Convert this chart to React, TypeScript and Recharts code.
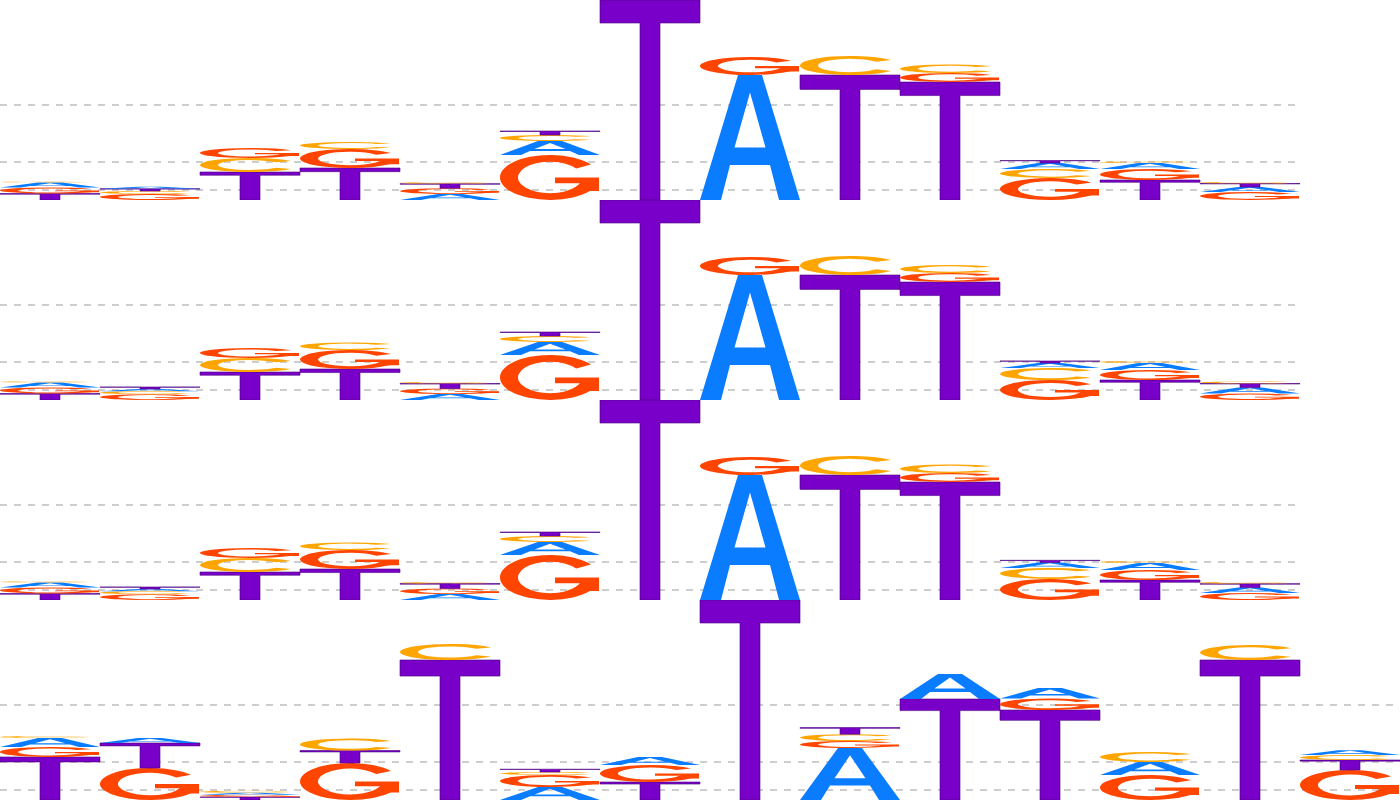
import { Bar, BarChart, CartesianGrid, XAxis, YAxis } from "recharts";

// Heights in bits for each position (rows top to bottom)
const A_ROW1 = [0.05, 0.02, 0, 0, 0.06, 0.14, 0, 1.25, 0, 0, 0.06, 0.06, 0.05];
const C_ROW1 = [0.01, 0.03, 0.14, 0.07, 0.015, 0.06, 0, 0, 0.19, 0.085, 0.09, 0.015, 0.015];
const G_ROW1 = [0.06, 0.06, 0.1, 0.19, 0.058, 0.45, 0, 0.18, 0, 0.09, 0.22, 0.11, 0.08];
const T_ROW1 = [0.065, 0.022, 0.28, 0.32, 0.045, 0.04, 2.0, 0, 1.25, 1.18, 0.025, 0.2, 0.035];

const A_ROW2 = [0.05, 0.022, 0, 0, 0.06, 0.13, 0, 1.25, 0, 0, 0.05, 0.07, 0.06];
const C_ROW2 = [0.012, 0.03, 0.14, 0.075, 0.015, 0.06, 0, 0, 0.19, 0.08, 0.12, 0.02, 0.02];
const G_ROW2 = [0.06, 0.058, 0.1, 0.19, 0.055, 0.45, 0, 0.18, 0, 0.09, 0.2, 0.1, 0.065];
const T_ROW2 = [0.065, 0.02, 0.28, 0.31, 0.05, 0.04, 2.0, 0, 1.25, 1.18, 0.02, 0.2, 0.04];

const A_ROW3 = [0.05, 0.022, 0, 0, 0.06, 0.13, 0, 1.25, 0, 0, 0.055, 0.07, 0.055];
const C_ROW3 = [0.012, 0.03, 0.14, 0.075, 0.015, 0.06, 0, 0, 0.19, 0.085, 0.11, 0.02, 0.018];
const G_ROW3 = [0.06, 0.058, 0.1, 0.19, 0.056, 0.45, 0, 0.18, 0, 0.09, 0.21, 0.1, 0.07];
const T_ROW3 = [0.065, 0.02, 0.28, 0.31, 0.048, 0.04, 2.0, 0, 1.25, 1.18, 0.022, 0.2, 0.038];

const A_ROW4 = [0.09, 0.05, 0.02, 0, 0, 0.13, 0.08, 0, 0.52, 0.25, 0.105, 0.13, 0, 0.048];
const C_ROW4 = [0.02, 0, 0.02, 0.12, 0.16, 0.03, 0, 0, 0.068, 0, 0, 0.1, 0.15, 0.05];
const G_ROW4 = [0.1, 0.32, 0.022, 0.37, 0, 0.12, 0.17, 0, 0.07, 0, 0.115, 0.25, 0, 0.3];
const T_ROW4 = [0.43, 0.25, 0.03, 0.125, 1.4, 0.028, 0.18, 2.0, 0.066, 1.01, 0.9, 0, 1.4, 0.1];

const GRID_TICKS = [0.1, 0.38, 0.95];
const Y_MAX = 2;

const LETTER_COLORS: Record<string, string> = {
  A: "#0a7cff",
  C: "#ffa500",
  G: "#ff4500",
  T: "#7800c8",
};

// glyph outlines in a unit box, scaled onto each bar rect
const GLYPHS: Record<string, string[]> = {
  T: ["M0,0 H1 V0.115 H0.6 V1 H0.4 V0.115 H0 Z"],
  A: ["M0,1 L0.38,0 L0.62,0 L1,1 L0.79,1 L0.7,0.72 L0.3,0.72 L0.21,1 Z M0.345,0.58 L0.655,0.58 L0.5,0.14 Z"],
  G: [
    "M0.91,0.213 A0.5,0.5 0 1 0 0.992,0.587 L0.815,0.561 A0.32,0.35 0 1 1 0.762,0.299 Z",
    "M0.55,0.5 H0.99 V0.8 H0.83 V0.63 H0.55 Z",
  ],
  C: ["M0.91,0.213 A0.5,0.5 0 1 0 0.91,0.787 L0.762,0.701 A0.32,0.35 0 1 1 0.762,0.299 Z"],
};

type Row = Record<string, number | string>;

function buildRow(a: number[], c: number[], g: number[], t: number[]): Row[] {
  return a.map((_, i) => {
    const items = [
      { l: "A", v: a[i] },
      { l: "C", v: c[i] },
      { l: "G", v: g[i] },
      { l: "T", v: t[i] },
    ]
      .filter((d) => d.v > 0)
      .sort((p, q) => q.v - p.v);
    const row: Row = { pos: i + 1 };
    for (let k = 0; k < 4; k++) {
      row[`v${k}`] = items[k] ? items[k].v : 0;
      row[`l${k}`] = items[k] ? items[k].l : "";
    }
    return row;
  });
}

const ROWS = [
  buildRow(A_ROW1, C_ROW1, G_ROW1, T_ROW1),
  buildRow(A_ROW2, C_ROW2, G_ROW2, T_ROW2),
  buildRow(A_ROW3, C_ROW3, G_ROW3, T_ROW3),
  buildRow(A_ROW4, C_ROW4, G_ROW4, T_ROW4),
];

const makeGlyph = (rank: number) => (props: any) => {
  const { x, y, width, height, payload } = props;
  const letter = payload ? payload[`l${rank}`] : "";
  if (!letter || !height || height <= 0) return <g />;
  const color = LETTER_COLORS[letter];
  return (
    <g transform={`translate(${x},${y}) scale(${width},${height})`}>
      {GLYPHS[letter].map((d, i) => (
        <path
          key={i}
          d={d}
          fill={color}
          fillRule="evenodd"
          stroke={letter === "T" ? "#4b0082" : "none"}
          strokeWidth={0.6}
          vectorEffect="non-scaling-stroke"
        />
      ))}
    </g>
  );
};

// only the grid ticks, no lines on the plot edges
const gridRows = (args: any) => {
  const scale = args?.yAxis?.scale;
  const h = args?.offset?.height ?? 200;
  const top = args?.offset?.top ?? 0;
  return GRID_TICKS.map((t) =>
    typeof scale === "function" ? scale(t) : top + h - (t / Y_MAX) * h
  );
};

const LogoRow = ({ data }: { data: Row[] }) => (
  <BarChart
    width={data.length * 100}
    height={200}
    data={data}
    margin={{ top: 0, right: 0, bottom: 0, left: 0 }}
    barCategoryGap={0}
    barGap={0}
  >
    <CartesianGrid
      vertical={false}
      stroke="#bdbdbd"
      strokeDasharray="7 7"
      strokeWidth={1.7}
      horizontalCoordinatesGenerator={gridRows}
    />
    <XAxis dataKey="pos" hide />
    <YAxis hide domain={[0, Y_MAX]} ticks={GRID_TICKS} />
    {[0, 1, 2, 3].map((k) => (
      <Bar key={k} dataKey={`v${k}`} stackId="s" isAnimationActive={false} shape={makeGlyph(k)} />
    ))}
  </BarChart>
);

export default function App() {
  return (
    <div style={{ width: 1400, height: 800, background: "#fff" }}>
      <style>{"body{margin:0}"}</style>
      {ROWS.map((r, i) => (
        <div key={i} style={{ height: 200 }}>
          <LogoRow data={r} />
        </div>
      ))}
    </div>
  );
}
